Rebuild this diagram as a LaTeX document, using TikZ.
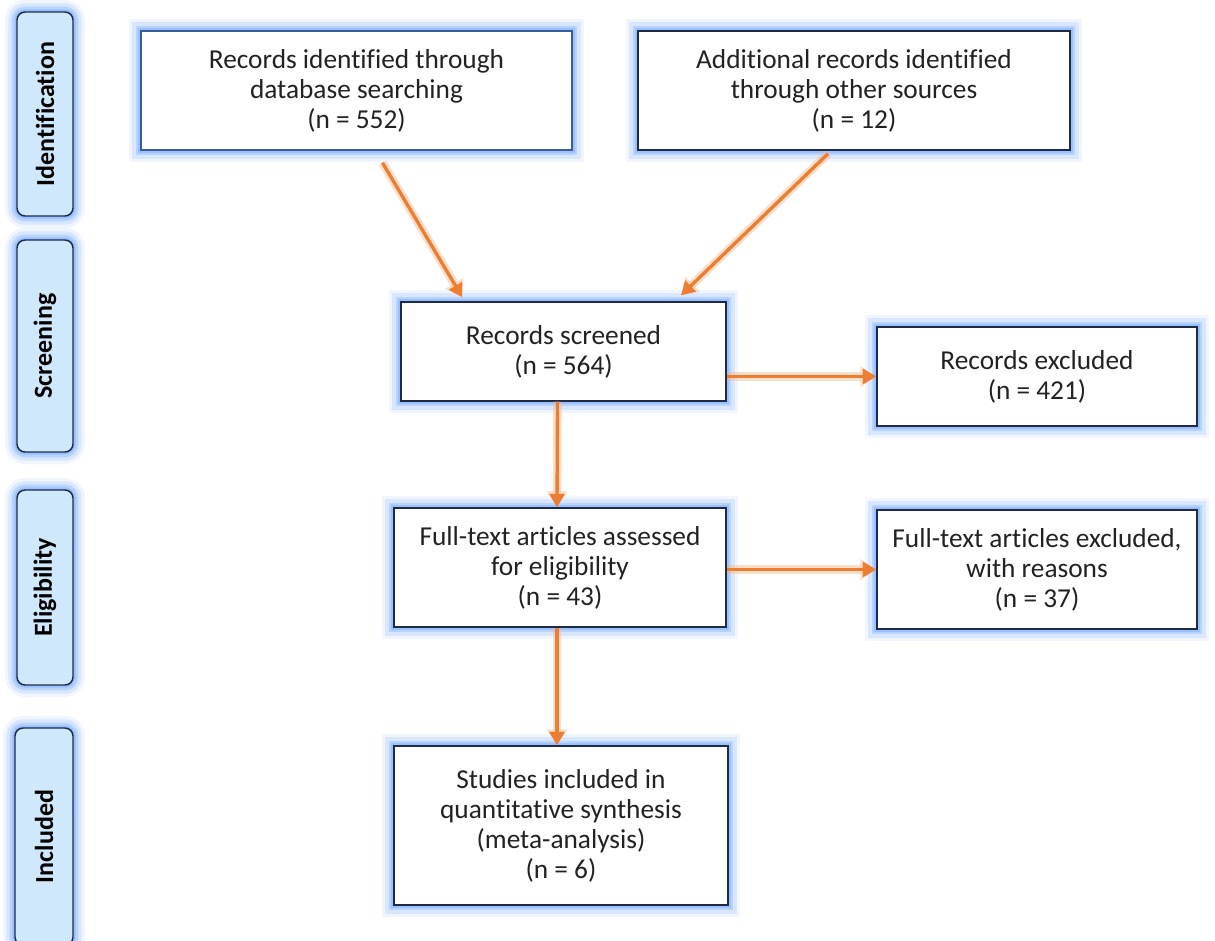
\documentclass[tikz,border=0pt]{standalone}
\usepackage{fontspec}
\setmainfont[Ligatures=NoCommon]{Carlito}
\usetikzlibrary{arrows.meta,calc}
\definecolor{boxline}{HTML}{1F2A44}
\definecolor{glowc}{HTML}{5C9BFF}
\definecolor{sidefill}{HTML}{CFE8FB}
\definecolor{arrc}{HTML}{ED7D31}
\definecolor{arrglow}{HTML}{F7B98A}
\definecolor{txt}{HTML}{222222}
\tikzset{
  glow/.style={
    preaction={draw=glowc, line width=18pt, opacity=0.09},
    preaction={draw=glowc, line width=13pt, opacity=0.16},
    preaction={draw=glowc, line width=8pt, opacity=0.25},
    preaction={draw=glowc, line width=4pt, opacity=0.33}},
  mainbox/.style={glow, draw=boxline, line width=1.1pt, fill=white, align=center,
    inner sep=2pt, font=\fontsize{20.5}{22.5}\selectfont, text=txt},
  sidebox/.style={glow, draw=boxline, line width=1.1pt, fill=sidefill, rounded corners=6pt,
    rotate=90, inner sep=0pt, font=\fontsize{19.5}{22}\selectfont\bfseries, text=black},
  flow/.style={draw=arrc, line width=2.5pt, -{Triangle[length=10pt,width=11pt]},
    preaction={draw=arrglow, line width=6.5pt, opacity=0.45, -{Triangle[length=12pt,width=15pt]}}}
}
\begin{document}
\begin{tikzpicture}[x=0.75pt,y=-0.75pt]
\useasboundingbox (0,0) rectangle (1215,940);
\fill[white] (0,0) rectangle (1215,940);
% side labels
\node[sidebox, minimum width=153pt, minimum height=42pt] (id) at (45,114) {Identification};
\node[sidebox, minimum width=159pt, minimum height=42pt] (sc) at (45,346) {Screening};
\node[sidebox, minimum width=146.25pt, minimum height=42pt] (el) at (45,587.5) {Eligibility};
\node[sidebox, minimum width=162.75pt, minimum height=43.5pt] (in) at (44,836.5) {Included};
% main boxes
\node[mainbox, draw=boxline!55!glowc, minimum width=323.25pt, minimum height=89.25pt] (b1) at (356.5,90.5)
  {Records identified through\\database searching\\(n = 552)};
\node[mainbox, minimum width=324pt, minimum height=89.25pt] (b2) at (854,90.5)
  {Additional records identified\\through other sources\\(n = 12)};
\node[mainbox, minimum width=243.75pt, minimum height=74.25pt] (b3) at (563.5,351.5)
  {Records screened\\(n = 564)};
\node[mainbox, minimum width=240pt, minimum height=74.25pt] (b4) at (1037,376.5)
  {Records excluded\\(n = 421)};
\node[mainbox, minimum width=249pt, minimum height=89.25pt] (b5) at (560,567.5)
  {Full-text articles assessed\\for eligibility\\(n = 43)};
\node[mainbox, minimum width=240pt, minimum height=89.25pt] (b6) at (1037,569.5)
  {Full-text articles excluded,\\with reasons\\(n = 37)};
\node[mainbox, minimum width=250.5pt, minimum height=119.25pt] (b7) at (561,825.5)
  {Studies included in\\quantitative synthesis\\(meta-analysis)\\(n = 6)};
% connectors
\draw[flow] ($(b1.south west)!0.56!(b1.south east)+(0,12)$) -- ($(b3.north west)!0.19!(b3.north east)+(0,-4)$);
\draw[flow] ($(b2.south west)!0.44!(b2.south east)+(0,3)$) -- ($(b3.north west)!0.86!(b3.north east)+(0,-6)$);
\draw[flow] ($(b3.south)+(-6,0)$) -- ($(b5.north)+(-3,0)$);
\draw[flow] (b4.west -| b3.east) -- (b4.west);
\draw[flow] (b6.west -| b5.east) -- (b6.west);
\draw[flow] ($(b5.south)+(-3,0)$) -- ($(b7.north)+(-4,0)$);
\end{tikzpicture}
\end{document}
